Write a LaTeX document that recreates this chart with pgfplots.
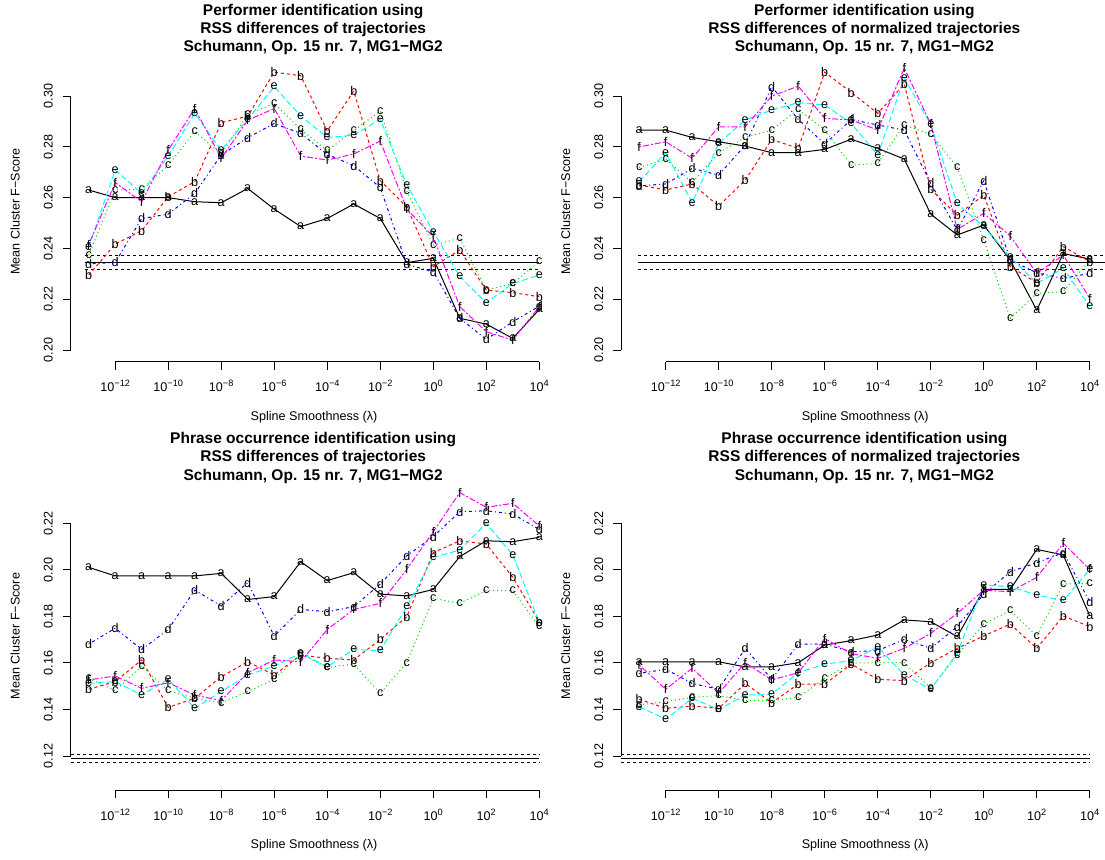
\documentclass[border=0pt]{standalone}
\usepackage{fontspec}
\setmainfont{Liberation Sans}
\usepackage{pgfplots}
\usepackage{pgfplotstable}
\pgfplotsset{compat=1.18}
\definecolor{rgreen}{RGB}{0,205,0}
\definecolor{rcyan}{RGB}{0,255,255}
\definecolor{rmag}{RGB}{255,0,255}
\definecolor{rred}{RGB}{255,0,0}
\definecolor{rblue}{RGB}{0,0,255}
\newcommand\tlf{\fontsize{6.3pt}{7pt}\selectfont}
\newcommand\mk{\fontsize{6.3pt}{7pt}\selectfont}
\newcommand\ttf{\fontsize{7.75pt}{9pt}\selectfont\bfseries}
\newcommand\tp[1]{10\raisebox{2.5pt}{\fontsize{4.6pt}{5pt}\selectfont #1}}
\tikzset{axl/.style={black,line width=0.5pt}}
\newcommand\xt[2]{\draw[axl] ({axis cs:#1,1}|-{rel axis cs:0,0}) -- ++(0pt,-4pt);
 \node[font=\tlf, anchor=base, yshift=-15pt, inner sep=0pt] at ({axis cs:#1,1}|-{rel axis cs:0,0}) {\tp{#2}};}
\newcommand\yt[2]{\draw[axl] ({rel axis cs:0,0}|-{axis cs:1,#1}) -- ++(-4pt,0pt);
 \node[font=\tlf, xshift=-9pt, rotate=90, anchor=base, inner sep=0pt] at ({rel axis cs:0,0}|-{axis cs:1,#1}) {#2};}
\newcommand\xax{%
 \draw[axl] ({axis cs:1e-12,1}|-{rel axis cs:0,0}) -- ({axis cs:1e4,1}|-{rel axis cs:0,0});
 \xt{1e-12}{−12}\xt{1e-10}{−10}\xt{1e-8}{−8}\xt{1e-6}{−6}\xt{1e-4}{−4}\xt{1e-2}{−2}\xt{1}{0}\xt{1e2}{2}\xt{1e4}{4}}
\newcommand\yaxtop{%
 \draw[axl] ({rel axis cs:0,0}|-{axis cs:1,0.20}) -- ({rel axis cs:0,0}|-{axis cs:1,0.30});
 \yt{0.20}{0.20}\yt{0.22}{0.22}\yt{0.24}{0.24}\yt{0.26}{0.26}\yt{0.28}{0.28}\yt{0.30}{0.30}}
\newcommand\yaxbot{%
 \draw[axl] ({rel axis cs:0,0}|-{axis cs:1,0.12}) -- ({rel axis cs:0,0}|-{axis cs:1,0.22});
 \yt{0.12}{0.12}\yt{0.14}{0.14}\yt{0.16}{0.16}\yt{0.18}{0.18}\yt{0.20}{0.20}\yt{0.22}{0.22}}
\pgfplotsset{
 Sa/.style={line width=0.5pt, mark=text, black, solid, text mark={\mk a}},
 Sb/.style={line width=0.5pt, mark=text, rred, dash pattern=on 1.5pt off 1.5pt, text mark={\mk b}},
 Sc/.style={line width=0.5pt, mark=text, rgreen, dash pattern=on 0.5pt off 1.5pt, text mark={\mk c}},
 Sd/.style={line width=0.5pt, mark=text, rblue, dash pattern=on 0.5pt off 1.5pt on 1.5pt off 1.5pt, text mark={\mk d}},
 Se/.style={line width=0.5pt, mark=text, rcyan, dash pattern=on 3pt off 1.5pt, text mark={\mk e}},
 Sf/.style={line width=0.5pt, mark=text, rmag, dash pattern=on 1pt off 1pt on 3pt off 1pt, text mark={\mk f}},
 Hl/.style={black, line width=0.5pt, no marks},
 Hd/.style={black, line width=0.5pt, no marks, dash pattern=on 1.5pt off 1.5pt},
}
\pgfplotstableread{
x a b c d e f
1e-13 0.2630 0.2295 0.2374 0.2339 0.2405 0.2415
1e-12 0.2600 0.2417 0.2630 0.2345 0.2709 0.2659
1e-11 0.2600 0.2470 0.2633 0.2518 0.2617 0.2584
1e-10 0.2600 0.2604 0.2728 0.2535 0.2764 0.2787
1e-9 0.2584 0.2663 0.2860 0.2617 0.2932 0.2951
1e-8 0.2580 0.2895 0.2772 0.2768 0.2787 0.2755
1e-7 0.2636 0.2921 0.2928 0.2836 0.2908 0.2905
1e-6 0.2555 0.3094 0.2971 0.2892 0.3037 0.2951
1e-5 0.2486 0.3080 0.2869 0.2853 0.2921 0.2764
1e-4 0.2518 0.2863 0.2785 0.2770 0.2837 0.2748
1e-3 0.2575 0.3020 0.2864 0.2726 0.2846 0.2772
1e-2 0.2518 0.2667 0.2941 0.2640 0.2909 0.2823
1e-1 0.2344 0.2564 0.2626 0.2337 0.2650 0.2555
1 0.2361 0.2328 0.2413 0.2308 0.2466 0.2446
1e1 0.2125 0.2394 0.2440 0.2125 0.2289 0.2171
1e2 0.2102 0.2236 0.2236 0.2042 0.2186 0.2072
1e3 0.2046 0.2226 0.2262 0.2111 0.2262 0.2039
1e4 0.2160 0.2210 0.2348 0.2173 0.2295 0.2171
}\dTL
\pgfplotstableread{
x a b c d e f
1e-13 0.2866 0.2650 0.2719 0.2646 0.2663 0.2800
1e-12 0.2866 0.2630 0.2751 0.2654 0.2777 0.2820
1e-11 0.2837 0.2654 0.2659 0.2715 0.2580 0.2755
1e-10 0.2820 0.2567 0.2777 0.2689 0.2814 0.2879
1e-9 0.2803 0.2669 0.2837 0.2807 0.2906 0.2879
1e-8 0.2777 0.2829 0.2866 0.3037 0.2945 0.3000
1e-7 0.2777 0.2794 0.2948 0.2908 0.2974 0.3039
1e-6 0.2790 0.3094 0.2866 0.2811 0.2965 0.2912
1e-5 0.2830 0.3014 0.2728 0.2908 0.2892 0.2906
1e-4 0.2794 0.2932 0.2735 0.2886 0.2768 0.2866
1e-3 0.2752 0.3047 0.2886 0.2866 0.3070 0.3110
1e-2 0.2535 0.2633 0.2850 0.2656 0.2888 0.2890
1e-1 0.2453 0.2531 0.2719 0.2472 0.2577 0.2475
1 0.2492 0.2610 0.2433 0.2667 0.2486 0.2538
1e1 0.2354 0.2328 0.2125 0.2354 0.2367 0.2449
1e2 0.2157 0.2265 0.2223 0.2304 0.2262 0.2302
1e3 0.2380 0.2407 0.2230 0.2282 0.2322 0.2374
1e4 0.2358 0.2348 0.2354 0.2302 0.2171 0.2203
}\dTR
\pgfplotstableread{
x a b c d e f
1e-13 0.2011 0.1487 0.1534 0.1681 0.1512 0.1527
1e-12 0.1974 0.1520 0.1481 0.1749 0.1520 0.1544
1e-11 0.1974 0.1613 0.1587 0.1658 0.1462 0.1491
1e-10 0.1974 0.1409 0.1481 0.1744 0.1530 0.1515
1e-9 0.1974 0.1448 0.1448 0.1913 0.1405 0.1462
1e-8 0.1985 0.1541 0.1429 0.1845 0.1477 0.1438
1e-7 0.1873 0.1605 0.1477 0.1945 0.1548 0.1558
1e-6 0.1885 0.1548 0.1530 0.1716 0.1587 0.1613
1e-5 0.2035 0.1634 0.1638 0.1830 0.1641 0.1605
1e-4 0.1954 0.1620 0.1581 0.1820 0.1584 0.1744
1e-3 0.1988 0.1613 0.1595 0.1842 0.1658 0.1830
1e-2 0.1896 0.1701 0.1469 0.1939 0.1653 0.1856
1e-1 0.1888 0.1799 0.1601 0.2060 0.1842 0.2002
1 0.1916 0.2074 0.1878 0.2143 0.2054 0.2164
1e1 0.2057 0.2125 0.1856 0.2250 0.2085 0.2332
1e2 0.2125 0.2111 0.1911 0.2254 0.2200 0.2269
1e3 0.2121 0.1968 0.1911 0.2240 0.2064 0.2286
1e4 0.2140 0.1777 0.1756 0.2174 0.1773 0.2189
}\dBL
\pgfplotstableread{
x a b c d e f
1e-13 0.1605 0.1444 0.1420 0.1555 0.1412 0.1591
1e-12 0.1605 0.1405 0.1434 0.1573 0.1358 0.1487
1e-11 0.1605 0.1415 0.1452 0.1512 0.1448 0.1577
1e-10 0.1605 0.1405 0.1460 0.1487 0.1400 0.1470
1e-9 0.1583 0.1512 0.1438 0.1663 0.1462 0.1601
1e-8 0.1583 0.1429 0.1438 0.1530 0.1466 0.1527
1e-7 0.1601 0.1509 0.1452 0.1681 0.1558 0.1558
1e-6 0.1677 0.1509 0.1534 0.1681 0.1595 0.1705
1e-5 0.1696 0.1595 0.1600 0.1648 0.1610 0.1640
1e-4 0.1720 0.1530 0.1601 0.1653 0.1669 0.1620
1e-3 0.1785 0.1524 0.1601 0.1701 0.1548 0.1663
1e-2 0.1777 0.1601 0.1491 0.1663 0.1487 0.1727
1e-1 0.1713 0.1663 0.1634 0.1756 0.1642 0.1813
1 0.1916 0.1716 0.1767 0.1896 0.1935 0.1913
1e1 0.1916 0.1767 0.1825 0.1992 0.1928 0.1906
1e2 0.2088 0.1663 0.1716 0.2031 0.1892 0.1968
1e3 0.2064 0.1802 0.1939 0.2074 0.1868 0.2114
1e4 0.1802 0.1756 0.1942 0.1863 0.2002 0.2002
}\dBR
\newcommand\series[1]{%
 \addplot[Sa] table[x=x,y=a]{#1};
 \addplot[Sb] table[x=x,y=b]{#1};
 \addplot[Sc] table[x=x,y=c]{#1};
 \addplot[Sd] table[x=x,y=d]{#1};
 \addplot[Se] table[x=x,y=e]{#1};
 \addplot[Sf] table[x=x,y=f]{#1};}
\begin{document}
\begin{tikzpicture}
% top left
\begin{axis}[scale only axis, width=243.3pt, height=150.35pt, hide axis, xmode=log,
   xmin=2.0893e-14, xmax=47863, ymin=0.1954, ymax=0.3138, clip=false,
   anchor=south west, at={(35.35pt,-180.85pt)}]
\addplot[Hl] coordinates {(7.2e-14,0.2344) (1e4,0.2344)};
\addplot[Hd] coordinates {(7.2e-14,0.2374) (1e4,0.2374)};
\addplot[Hd] coordinates {(7.2e-14,0.2318) (1e4,0.2318)};
\series{\dTL}
\xax\yaxtop
\end{axis}
% top right
\begin{axis}[scale only axis, width=243.3pt, height=150.35pt, hide axis, xmode=log,
   xmin=2.0893e-14, xmax=47863, ymin=0.1954, ymax=0.3138, clip=false,
   anchor=south west, at={(310.6pt,-180.85pt)}]
\addplot[Hl] coordinates {(9e-14,0.2344) (4e4,0.2344)};
\addplot[Hd] coordinates {(9e-14,0.2374) (4e4,0.2374)};
\addplot[Hd] coordinates {(9e-14,0.2318) (4e4,0.2318)};
\series{\dTR}
\xax\yaxtop
\end{axis}
% bottom left
\begin{axis}[scale only axis, width=243.3pt, height=154.05pt, hide axis, xmode=log,
   xmin=2.0893e-14, xmax=47863, ymin=0.1054, ymax=0.2378, clip=false,
   anchor=south west, at={(35.35pt,-395pt)}]
\addplot[Hl] coordinates {(2.0893e-14,0.1190) (1e4,0.1190)};
\addplot[Hd] coordinates {(2.0893e-14,0.1207) (1e4,0.1207)};
\addplot[Hd] coordinates {(2.0893e-14,0.1173) (1e4,0.1173)};
\series{\dBL}
\xax\yaxbot
\end{axis}
% bottom right
\begin{axis}[scale only axis, width=243.3pt, height=154.05pt, hide axis, xmode=log,
   xmin=2.0893e-14, xmax=47863, ymin=0.1054, ymax=0.2378, clip=false,
   anchor=south west, at={(310.6pt,-395pt)}]
\addplot[Hl] coordinates {(2.0893e-14,0.1190) (1e4,0.1190)};
\addplot[Hd] coordinates {(2.0893e-14,0.1207) (1e4,0.1207)};
\addplot[Hd] coordinates {(2.0893e-14,0.1173) (1e4,0.1173)};
\series{\dBR}
\xax\yaxbot
\end{axis}
% titles and labels
\foreach \cx/\cy/\la/\lb in {156.6/0/Performer identification using/RSS differences of trajectories,
  432.2/0/Performer identification using/RSS differences of normalized trajectories,
  156.6/214.15/Phrase occurrence identification using/RSS differences of trajectories,
  432.2/214.15/Phrase occurrence identification using/RSS differences of normalized trajectories}{
 \node[font=\ttf, anchor=base, inner sep=0pt] at (\cx pt,-7.5pt-\cy pt) {\la};
 \node[font=\ttf, anchor=base, inner sep=0pt] at (\cx pt,-16.65pt-\cy pt) {\lb};
 \node[font=\ttf, anchor=base, inner sep=0pt] at (\cx pt,-25.85pt-\cy pt) {Schumann, Op. 15 nr. 7, MG1−MG2};
 \node[font=\tlf, anchor=base, inner sep=0pt] at (\cx pt+0.4pt,-210pt-\cy pt) {Spline Smoothness (λ)};
}
\foreach \cx/\cy in {9.85/105.7, 285/105.7, 9.85/318, 285/318}{
 \node[font=\tlf, rotate=90, anchor=base, inner sep=0pt] at (\cx pt,-\cy pt) {Mean Cluster F−Score};
}
\pgfresetboundingbox
\useasboundingbox (0,0) rectangle (552.5pt,-429.5pt);
\end{tikzpicture}
\end{document}
